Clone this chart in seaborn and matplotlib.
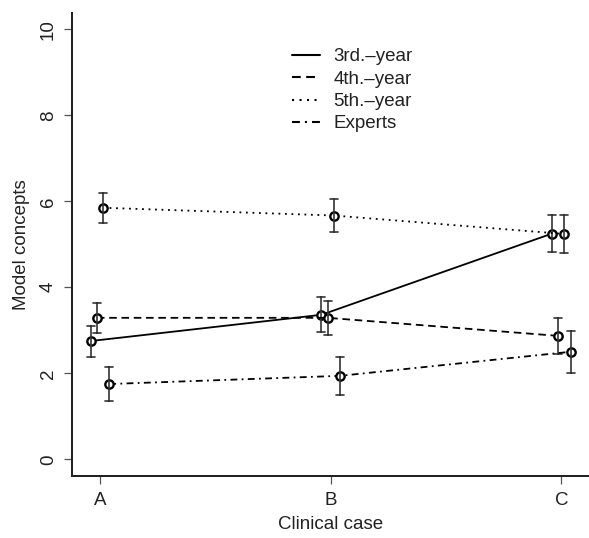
import matplotlib
matplotlib.use("Agg")
import matplotlib.pyplot as plt
from matplotlib.lines import Line2D
import pandas as pd
import seaborn as sns

# Werte
cases = ["A", "B", "C"]
groups = ["3rd.\u2013year", "4th.\u2013year", "5th.\u2013year", "Experts"]
mean_3rd = [2.75, 3.36, 5.25]
mean_4th = [3.29, 3.29, 2.87]
mean_5th = [5.85, 5.67, 5.24]
mean_exp = [1.75, 1.94, 2.50]
err_3rd = [0.36, 0.41, 0.43]
err_4th = [0.35, 0.40, 0.42]
err_5th = [0.35, 0.39, 0.44]
err_exp = [0.40, 0.45, 0.49]

means = [mean_3rd, mean_4th, mean_5th, mean_exp]
errs = [err_3rd, err_4th, err_5th, err_exp]

# Long-Format: pro Gruppe/Fall untere und obere Grenze -> Mittelwert + Spannweite
rows = []
for g, m_list, e_list in zip(groups, means, errs):
    for c, m, e in zip(cases, m_list, e_list):
        rows.append({"case": c, "group": g, "value": m - e})
        rows.append({"case": c, "group": g, "value": m + e})
df = pd.DataFrame(rows)

sns.set_style("ticks")
plt.rcParams["font.family"] = ["Liberation Sans", "DejaVu Sans"]

styles = ["-", (0, (4.2, 2.6)), (0, (1, 2.6)), (0, (3.8, 2.4, 1, 2.4))]

fig = plt.figure(figsize=(5.89, 5.38), dpi=100)
ax = fig.add_axes([0.1222, 0.1152, 0.8778, 0.8606])

sns.pointplot(
    data=df, x="case", y="value", hue="group", order=cases, hue_order=groups,
    palette={g: "black" for g in groups}, errorbar=("pi", 100), dodge=0.08,
    linestyles=styles, markers="o", capsize=0.035, legend=False,
    err_kws={"linewidth": 1.2, "color": "#333333"},
    linewidth=1.3, markersize=6, markerfacecolor="white",
    markeredgecolor="black", markeredgewidth=1.7, ax=ax,
)

ax.set_xlim(-0.1215, 2.12)
ax.set_ylim(-0.39, 10.38)
ax.set_yticks([0, 2, 4, 6, 8, 10])
for lab in ax.get_yticklabels():
    lab.set_rotation(90)
    lab.set_va("center")
ax.tick_params(axis="both", labelsize=13.5, length=5.8, width=0.9,
               color="#555555", pad=5, labelcolor="#222222")
ax.tick_params(axis="x", pad=6)
for side in ["left", "bottom"]:
    ax.spines[side].set_linewidth(1.45)
    ax.spines[side].set_color("#222222")
sns.despine(ax=ax)

ax.set_xlabel("Clinical case", fontsize=13.5, labelpad=5, color="#222222")
ax.set_ylabel("Model concepts", fontsize=13.5, labelpad=7, color="#222222")

handles = [Line2D([], [], color="black", linewidth=1.5, linestyle=s) for s in styles]
leg = ax.legend(handles, groups, loc="upper left", bbox_to_anchor=(0.4255, 0.924),
                frameon=False, fontsize=13.5, handlelength=1.5, handletextpad=0.7,
                labelspacing=0.28, borderpad=0, borderaxespad=0)
for t in leg.get_texts():
    t.set_color("#222222")

fig.savefig("out.png", dpi=100)
